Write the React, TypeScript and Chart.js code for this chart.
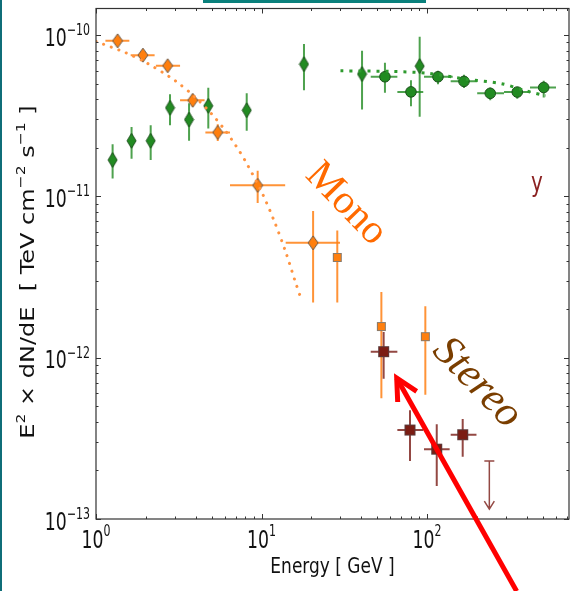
import { useEffect, useRef } from "react";
import { Chart, registerables } from "chart.js";

Chart.register(...registerables);

const W = 577;
const H = 591;

// Axis ranges: energy in GeV, E^2 dN/dE in TeV cm^-2 s^-1
const energyMin = 1;
const energyMax = 721;
const fluxMin = 1e-13;
const fluxMax = 1.46e-10;

const xMajorTicks = [1, 10, 100];
const xTickExponents = ["0", "1", "2"];
const yMajorTicks = [1e-13, 1e-12, 1e-11, 1e-10];
const yTickExponents = ["−13", "−12", "−11", "−10"];

// Mono, low energy points (orange diamonds)
const monoE = [1.35, 1.92, 2.71, 3.84, 5.44, 9.48, 20.5];
const monoELo = [1.14, 1.62, 2.3, 3.22, 4.58, 6.45, 14.0];
const monoEHi = [1.59, 2.26, 3.22, 4.53, 6.45, 13.9, 29.8];
const monoF = [9.2e-11, 7.5e-11, 6.45e-11, 3.94e-11, 2.49e-11, 1.17e-11, 5.15e-12];
const monoFLo = [8.7e-11, 7.0e-11, 6.0e-11, 3.6e-11, 2.2e-11, 9.1e-12, 2.2e-12];
const monoFHi = [9.7e-11, 8.0e-11, 6.9e-11, 4.3e-11, 2.8e-11, 1.44e-11, 8.1e-12];

// Mono, higher energy points (orange squares)
const monoSqE = [28.7, 53, 97.7];
const monoSqF = [4.18e-12, 1.56e-12, 1.35e-12];
const monoSqFLo = [2.2e-12, 5.6e-13, 5.9e-13];
const monoSqFHi = [6.15e-12, 2.55e-12, 2.08e-12];

// Mono fit (orange dotted curve)
const monoFitE = [1, 1.5, 2, 3, 4, 5, 6, 7, 8, 10, 12, 14, 16, 17.5];
const monoFitF = [
  9.12e-11, 7.79e-11, 6.76e-11, 5.22e-11, 4.09e-11, 3.24e-11, 2.58e-11,
  2.06e-11, 1.65e-11, 1.07e-11, 6.93e-12, 4.52e-12, 2.96e-12, 2.25e-12,
];

// Fermi-LAT points (green diamonds)
const lat1E = [1.26, 1.64, 2.14, 2.8, 3.65, 4.77, 8.14, 18.06, 40.5, 90.3];
const lat1F = [1.68e-11, 2.21e-11, 2.21e-11, 3.54e-11, 2.99e-11, 3.64e-11, 3.42e-11, 6.6e-11, 5.73e-11, 6.42e-11];
const lat1FLo = [1.29e-11, 1.71e-11, 1.68e-11, 2.76e-11, 2.21e-11, 2.63e-11, 2.55e-11, 4.55e-11, 3.45e-11, 3.11e-11];
const lat1FHi = [2.1e-11, 2.69e-11, 2.76e-11, 4.3e-11, 3.77e-11, 4.71e-11, 4.35e-11, 8.8e-11, 8.0e-11, 9.76e-11];

// Fermi-LAT high energy points (green circles)
const lat2E = [55.7, 80.0, 116.5, 167.3, 241, 351, 507];
const lat2ELo = [45.7, 66.2, 95.9, 139, 201, 292, 419];
const lat2EHi = [66.2, 94.9, 143, 201, 292, 423, 602];
const lat2F = [5.51e-11, 4.44e-11, 5.51e-11, 5.16e-11, 4.35e-11, 4.43e-11, 4.73e-11];
const lat2FLo = [4.38e-11, 3.62e-11, 4.96e-11, 4.69e-11, 3.94e-11, 4.03e-11, 4.1e-11];
const lat2FHi = [6.73e-11, 5.25e-11, 6.0e-11, 5.67e-11, 4.73e-11, 4.75e-11, 5.2e-11];

// Fermi-LAT fit (green dotted line)
const latFitE = [30, 60, 100, 170, 280, 400, 520];
const latFitF = [6.0e-11, 5.95e-11, 5.8e-11, 5.33e-11, 5.0e-11, 4.5e-11, 4.2e-11];

// Stereo points (dark red squares) and upper limit
const stereoE = [54.7, 78.9, 114.5, 164.3];
const stereoELo = [45.7, 66.2, 95.9, 139];
const stereoEHi = [66.2, 94.9, 137, 199];
const stereoF = [1.09e-12, 3.56e-13, 2.71e-13, 3.33e-13];
const stereoFLo = [7.4e-13, 2.29e-13, 1.6e-13, 2.43e-13];
const stereoFHi = [1.44e-12, 4.73e-13, 3.87e-13, 4.16e-13];
const stereoUlE = [238];
const stereoUlF = [2.29e-13];
const stereoUlTip = [1.15e-13];

// Pointer arrow, tip and tail in (energy, flux)
const pointerTip = { x: 65.6, y: 7.48e-13 };
const pointerTail = { x: 348, y: 3.57e-14 };

const FONT = '"DejaVu Sans", sans-serif';

type Seg = { t: string; size: number; rise?: number };

function drawRich(
  ctx: CanvasRenderingContext2D,
  segs: Seg[],
  x: number,
  y: number,
  align: "left" | "center" | "right",
  sy: number,
  rotate = 0,
  color = "#111"
) {
  ctx.save();
  ctx.translate(x, y);
  ctx.scale(1, sy);
  if (rotate) ctx.rotate(rotate);
  ctx.fillStyle = color;
  ctx.textBaseline = "alphabetic";
  ctx.textAlign = "left";
  let total = 0;
  const widths = segs.map((s) => {
    ctx.font = `${s.size}px ${FONT}`;
    const w = ctx.measureText(s.t).width;
    total += w;
    return w;
  });
  let cx = align === "center" ? -total / 2 : align === "right" ? -total : 0;
  segs.forEach((s, i) => {
    ctx.font = `${s.size}px ${FONT}`;
    ctx.fillText(s.t, cx, -(s.rise ?? 0));
    cx += widths[i];
  });
  ctx.restore();
}

type ErrSeries = {
  e: number[];
  f: number[];
  eLo?: number[];
  eHi?: number[];
  fLo: number[];
  fHi: number[];
  color: string;
};

const errorSeries: ErrSeries[] = [
  { e: monoE, f: monoF, eLo: monoELo, eHi: monoEHi, fLo: monoFLo, fHi: monoFHi, color: "rgba(255,128,20,0.85)" },
  { e: monoSqE, f: monoSqF, fLo: monoSqFLo, fHi: monoSqFHi, color: "rgba(255,128,20,0.85)" },
  { e: lat1E, f: lat1F, fLo: lat1FLo, fHi: lat1FHi, color: "rgba(34,139,34,0.8)" },
  { e: lat2E, f: lat2F, eLo: lat2ELo, eHi: lat2EHi, fLo: lat2FLo, fHi: lat2FHi, color: "rgba(34,139,34,0.8)" },
  { e: stereoE, f: stereoF, eLo: stereoELo, eHi: stereoEHi, fLo: stereoFLo, fHi: stereoFHi, color: "rgba(128,40,34,0.85)" },
];

function minorValues(lo: number, hi: number) {
  const out: number[] = [];
  for (let d = Math.floor(Math.log10(lo)); d <= Math.ceil(Math.log10(hi)); d++) {
    for (let m = 2; m <= 9; m++) {
      const v = m * Math.pow(10, d);
      if (v > lo && v < hi) out.push(v);
    }
  }
  return out;
}

const spectrumDecor = {
  id: "spectrumDecor",
  beforeDatasetsDraw(chart: any) {
    const { ctx, chartArea: a, scales } = chart;
    const xs = scales.x;
    const ys = scales.y;
    ctx.save();
    ctx.beginPath();
    ctx.rect(a.left, a.top, a.right - a.left, a.bottom - a.top);
    ctx.clip();
    ctx.lineWidth = 2;
    for (const s of errorSeries) {
      ctx.strokeStyle = s.color;
      s.e.forEach((e, i) => {
        const px = xs.getPixelForValue(e);
        const py = ys.getPixelForValue(s.f[i]);
        ctx.beginPath();
        ctx.moveTo(px, ys.getPixelForValue(s.fLo[i]));
        ctx.lineTo(px, ys.getPixelForValue(s.fHi[i]));
        if (s.eLo && s.eHi) {
          ctx.moveTo(xs.getPixelForValue(s.eLo[i]), py);
          ctx.lineTo(xs.getPixelForValue(s.eHi[i]), py);
        }
        ctx.stroke();
      });
    }
    // upper limit
    ctx.strokeStyle = "rgba(128,40,34,0.85)";
    ctx.lineWidth = 1.5;
    stereoUlE.forEach((e, i) => {
      const px = xs.getPixelForValue(e);
      const top = ys.getPixelForValue(stereoUlF[i]);
      const tip = ys.getPixelForValue(stereoUlTip[i]);
      ctx.beginPath();
      ctx.moveTo(px - 5, top);
      ctx.lineTo(px + 5, top);
      ctx.moveTo(px, top);
      ctx.lineTo(px, tip);
      ctx.moveTo(px - 5, tip - 8);
      ctx.lineTo(px, tip);
      ctx.lineTo(px + 5, tip - 8);
      ctx.stroke();
    });
    ctx.restore();
  },
  afterDatasetsDraw(chart: any) {
    const { ctx, chartArea: a, scales } = chart;
    const xs = scales.x;
    const ys = scales.y;
    ctx.save();

    // frame
    ctx.strokeStyle = "#333";
    ctx.lineWidth = 1.2;
    ctx.strokeRect(a.left, a.top, a.right - a.left, a.bottom - a.top);

    // inward ticks on all four sides
    ctx.lineWidth = 1;
    ctx.beginPath();
    const xTick = (v: number, len: number) => {
      const px = Math.round(xs.getPixelForValue(v)) + 0.5;
      ctx.moveTo(px, a.bottom);
      ctx.lineTo(px, a.bottom - len);
      ctx.moveTo(px, a.top);
      ctx.lineTo(px, a.top + len);
    };
    const yTick = (v: number, len: number) => {
      const py = Math.round(ys.getPixelForValue(v)) + 0.5;
      ctx.moveTo(a.left, py);
      ctx.lineTo(a.left + len, py);
      ctx.moveTo(a.right, py);
      ctx.lineTo(a.right - len, py);
    };
    xMajorTicks.forEach((v) => xTick(v, 5));
    minorValues(energyMin, energyMax).forEach((v) => xTick(v, 2.5));
    yMajorTicks.forEach((v) => yTick(v, 5));
    minorValues(fluxMin, fluxMax).forEach((v) => yTick(v, 2.5));
    ctx.stroke();

    // tick labels
    const tickSY = 1.45;
    xMajorTicks.forEach((v, i) => {
      drawRich(
        ctx,
        [
          { t: "10", size: 17.3 },
          { t: xTickExponents[i], size: 11, rise: 8 },
        ],
        xs.getPixelForValue(v),
        a.bottom + 29,
        "center",
        tickSY
      );
    });
    yMajorTicks.forEach((v, i) => {
      drawRich(
        ctx,
        [
          { t: "10", size: 17.3 },
          { t: yTickExponents[i], size: 11, rise: 7.2 },
        ],
        a.left - 6,
        ys.getPixelForValue(v) + 10.5,
        "right",
        tickSY
      );
    });

    // axis titles
    drawRich(ctx, [{ t: "Energy [ GeV ]", size: 17 }], (a.left + a.right) / 2, 573, "center", 1.22);
    drawRich(
      ctx,
      [
        { t: "E", size: 20 },
        { t: "2", size: 13, rise: 9 },
        { t: " × dN/dE  [ TeV cm", size: 20 },
        { t: "−2", size: 13, rise: 9 },
        { t: " s", size: 20 },
        { t: "−1", size: 13, rise: 9 },
        { t: " ]", size: 20 },
      ],
      33.5,
      272,
      "center",
      1.2,
      -Math.PI / 2
    );

    // curve labels
    ctx.textAlign = "center";
    ctx.textBaseline = "middle";
    ctx.save();
    ctx.translate(346, 204);
    ctx.rotate((46 * Math.PI) / 180);
    ctx.fillStyle = "#ff6a00";
    ctx.font = '41px "Liberation Serif", serif';
    ctx.fillText("Mono", 0, 0);
    ctx.restore();

    ctx.save();
    ctx.translate(477, 383);
    ctx.rotate((46 * Math.PI) / 180);
    ctx.fillStyle = "#7a3e00";
    ctx.font = 'italic 43px "Liberation Serif", serif';
    ctx.fillText("Stereo", 0, 0);
    ctx.restore();

    drawRich(ctx, [{ t: "y", size: 20 }], 537, 191, "center", 1.3, 0, "#8b2222");

    // red pointer arrow
    const tx = xs.getPixelForValue(pointerTip.x);
    const ty = ys.getPixelForValue(pointerTip.y);
    const bx = xs.getPixelForValue(pointerTail.x);
    const by = ys.getPixelForValue(pointerTail.y);
    const ang = Math.atan2(by - ty, bx - tx);
    const arm = 24;
    const spread = (27 * Math.PI) / 180;
    ctx.strokeStyle = "#ff0000";
    ctx.lineWidth = 5;
    ctx.lineCap = "butt";
    ctx.lineJoin = "miter";
    ctx.beginPath();
    ctx.moveTo(bx, by);
    ctx.lineTo(tx, ty);
    ctx.stroke();
    ctx.beginPath();
    ctx.moveTo(tx + arm * Math.cos(ang - spread), ty + arm * Math.sin(ang - spread));
    ctx.lineTo(tx, ty);
    ctx.lineTo(tx + arm * Math.cos(ang + spread), ty + arm * Math.sin(ang + spread));
    ctx.stroke();

    ctx.restore();
  },
};

function diamondImage(w: number, h: number, fill: string, edge: string) {
  const c = document.createElement("canvas");
  c.width = w + 2;
  c.height = h + 2;
  const g = c.getContext("2d")!;
  g.beginPath();
  g.moveTo(c.width / 2, 1);
  g.lineTo(c.width - 1, c.height / 2);
  g.lineTo(c.width / 2, c.height - 1);
  g.lineTo(1, c.height / 2);
  g.closePath();
  g.fillStyle = fill;
  g.fill();
  g.lineWidth = 1;
  g.strokeStyle = edge;
  g.stroke();
  return c;
}

function squareImage(s: number, fill: string, edge: string) {
  const c = document.createElement("canvas");
  c.width = s + 2;
  c.height = s + 2;
  const g = c.getContext("2d")!;
  g.fillStyle = fill;
  g.fillRect(1, 1, s, s);
  g.lineWidth = 1;
  g.strokeStyle = edge;
  g.strokeRect(1.5, 1.5, s - 1, s - 1);
  return c;
}

const toPoints = (e: number[], f: number[]) => e.map((x, i) => ({ x, y: f[i] }));

export default function App() {
  const ref = useRef<HTMLCanvasElement | null>(null);

  useEffect(() => {
    if (!ref.current) return;
    const orangeDiamond = diamondImage(10, 14, "#ff7f0e", "#6b5a4a");
    const greenDiamond = diamondImage(9, 15, "#228b22", "#1b4f1b");
    const orangeSquare = squareImage(9, "#ff7f0e", "#8a7a6a");
    const stereoSquare = squareImage(11, "#7b1d14", "#5a3a3a");

    const chart = new Chart(ref.current, {
      type: "scatter",
      data: {
        datasets: [
          {
            type: "line",
            data: toPoints(monoFitE, monoFitF),
            borderColor: "#ff9340",
            borderWidth: 3,
            borderDash: [0.1, 8],
            borderCapStyle: "round",
            pointRadius: 0,
            tension: 0.3,
            fill: false,
          },
          {
            type: "line",
            data: toPoints(latFitE, latFitF),
            borderColor: "#2e9a2e",
            borderWidth: 3,
            borderDash: [3, 6],
            pointRadius: 0,
            tension: 0.3,
            fill: false,
          },
          {
            data: toPoints(monoE, monoF),
            pointStyle: orangeDiamond,
            pointRadius: 6,
          },
          {
            data: toPoints(monoSqE, monoSqF),
            pointStyle: orangeSquare,
            pointRadius: 6,
          },
          {
            data: toPoints(lat1E, lat1F),
            pointStyle: greenDiamond,
            pointRadius: 6,
          },
          {
            data: toPoints(lat2E, lat2F),
            pointStyle: "circle",
            pointRadius: 5.3,
            backgroundColor: "#228b22",
            borderColor: "#1b4f1b",
            borderWidth: 1,
          },
          {
            data: toPoints(stereoE, stereoF),
            pointStyle: stereoSquare,
            pointRadius: 6,
          },
        ],
      } as any,
      options: {
        animation: false,
        responsive: false,
        maintainAspectRatio: false,
        layout: { padding: { left: 96, right: 8, top: 8.5, bottom: 72 } },
        plugins: { legend: { display: false }, tooltip: { enabled: false } },
        scales: {
          x: { type: "logarithmic", min: energyMin, max: energyMax, display: false },
          y: { type: "logarithmic", min: fluxMin, max: fluxMax, display: false },
        },
      },
      plugins: [spectrumDecor],
    });
    return () => chart.destroy();
  }, []);

  return (
    <div style={{ position: "fixed", left: 0, top: 0, width: W, height: H, background: "#fff" }}>
      <canvas ref={ref} width={W} height={H} style={{ display: "block", width: W, height: H }} />
      <div style={{ position: "absolute", left: 0, top: 0, width: 2, height: H, background: "#0f6e78" }} />
      <div style={{ position: "absolute", left: 203, top: 0, width: 223, height: 3, background: "#0a807c" }} />
    </div>
  );
}
